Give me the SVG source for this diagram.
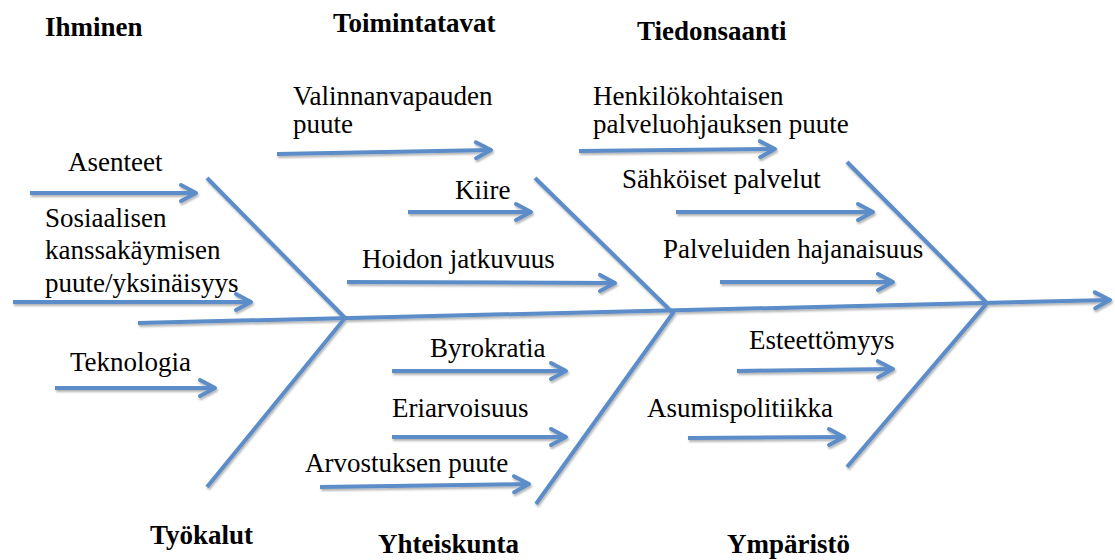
<svg xmlns="http://www.w3.org/2000/svg" width="1115" height="560" viewBox="0 0 1115 560">
  <style>
    text { font-family: 'Liberation Serif', 'DejaVu Serif', serif; fill: #000; }
    .label { font-size: 27px; }
    .head { font-size: 27px; font-weight: bold; }
    .bone { stroke: #5b8dc8; stroke-width: 4; fill: none; stroke-linecap: butt; stroke-linejoin: miter; }
    .arrow { stroke: #5b8dc8; stroke-width: 4; fill: none; marker-end: url(#chevron); }
  </style>
  <defs>
    <marker id="chevron" markerUnits="userSpaceOnUse" viewBox="-20 -12 24 24" refX="0" refY="0" markerWidth="24" markerHeight="24" orient="auto">
      <path d="M-15,-8 L0,0 L-15,8" fill="none" stroke="#5b8dc8" stroke-width="4" stroke-linejoin="round" stroke-linecap="round"/>
    </marker>
    <filter id="shade" x="-10%" y="-10%" width="120%" height="130%">
      <feDropShadow dx="1" dy="2" stdDeviation="1.2" flood-color="#000" flood-opacity="0.3"/>
    </filter>
  </defs>
  <rect width="1115" height="560" fill="#fff"/>

  <!-- Fishbone spine, ribs and cause arrows -->
  <g id="connectors" filter="url(#shade)">
    <path class="arrow" d="M138,323 L1110,300"/>
    <path class="bone" d="M207,178 L345,318 L207,487"/>
    <path class="bone" d="M535,178 L673,313 L536,504"/>
    <path class="bone" d="M847,162 L987,303 L847,467"/>

    <path class="arrow" d="M30,193 L196,193"/>
    <path class="arrow" d="M13,302 L251,302"/>
    <path class="arrow" d="M55,388 L215,388"/>
    <path class="arrow" d="M277,154 L491,150"/>
    <path class="arrow" d="M408,212 L531,212"/>
    <path class="arrow" d="M347,282 L615,283"/>
    <path class="arrow" d="M392,371 L566,371"/>
    <path class="arrow" d="M392,437 L566,437"/>
    <path class="arrow" d="M320,487 L529,484"/>
    <path class="arrow" d="M579,151 L775,149"/>
    <path class="arrow" d="M676,212 L873,212"/>
    <path class="arrow" d="M720,282 L893,282"/>
    <path class="arrow" d="M737,371 L893,369"/>
    <path class="arrow" d="M688,438 L844,437"/>
  </g>

  <!-- Category headings -->
  <g id="ihminen"><text class="head" x="45" y="36" font-family="Liberation Serif">Ihminen</text></g>
  <g id="toimintatavat"><text class="head" x="333" y="32" font-family="Liberation Serif">Toimintatavat</text></g>
  <g id="tiedonsaanti"><text class="head" x="637" y="40" font-family="Liberation Serif">Tiedonsaanti</text></g>
  <g id="tyokalut"><text class="head" x="150" y="544" font-family="Liberation Serif">Työkalut</text></g>
  <g id="yhteiskunta"><text class="head" x="378" y="553" font-family="Liberation Serif">Yhteiskunta</text></g>
  <g id="ymparisto"><text class="head" x="727" y="553" font-family="Liberation Serif">Ympäristö</text></g>

  <!-- Cause labels -->
  <g id="asenteet"><text class="label" x="68" y="171">Asenteet</text></g>
  <g id="sosiaalisen">
    <text class="label" x="45" y="227">Sosiaalisen</text>
    <text class="label" x="45" y="259">kanssakäymisen</text>
    <text class="label" x="45" y="292">puute/yksinäisyys</text>
  </g>
  <g id="teknologia"><text class="label" x="70" y="371">Teknologia</text></g>
  <g id="valinnanvapaus">
    <text class="label" x="293" y="105">Valinnanvapauden</text>
    <text class="label" x="293" y="133">puute</text>
  </g>
  <g id="kiire"><text class="label" x="455" y="199">Kiire</text></g>
  <g id="hoidon-jatkuvuus"><text class="label" x="362" y="268">Hoidon jatkuvuus</text></g>
  <g id="byrokratia"><text class="label" x="430" y="357">Byrokratia</text></g>
  <g id="eriarvoisuus"><text class="label" x="392" y="417">Eriarvoisuus</text></g>
  <g id="arvostus"><text class="label" x="305" y="472">Arvostuksen puute</text></g>
  <g id="palveluohjaus">
    <text class="label" x="593" y="105">Henkilökohtaisen</text>
    <text class="label" x="593" y="133">palveluohjauksen puute</text>
  </g>
  <g id="sahkoiset"><text class="label" x="622" y="188">Sähköiset palvelut</text></g>
  <g id="hajanaisuus"><text class="label" x="663" y="258">Palveluiden hajanaisuus</text></g>
  <g id="esteettomyys"><text class="label" x="749" y="349">Esteettömyys</text></g>
  <g id="asumispolitiikka"><text class="label" x="647" y="417">Asumispolitiikka</text></g>
</svg>
